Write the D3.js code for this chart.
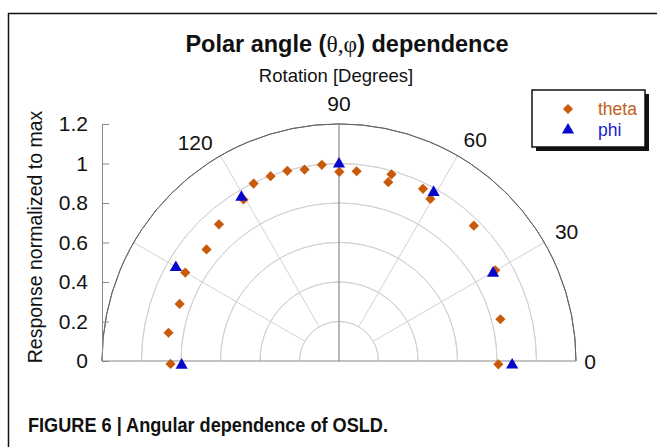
<!DOCTYPE html>
<html>
<head>
<meta charset="utf-8">
<script src="https://cdn.jsdelivr.net/npm/d3@7"></script>
<style>
  body { margin: 0; background: #fff; }
  svg text { font-family: "Liberation Sans", Arial, sans-serif; }
</style>
</head>
<body>
<div id="chart"></div>
<script>
// data: angle in degrees, response normalized to max
var thetaAngle = [181, 170.6, 160.3, 150.1, 139.9, 131.3, 120.6, 115.7, 110.3, 105.2, 100.2, 95.0,
                  89.9, 84.7, 74.3, 74.6, 64.0, 60.6, 45.1, 30.1, 14.5, -1.2];
var thetaValue = [0.853, 0.875, 0.857, 0.898, 0.877, 0.921, 0.950, 0.997, 0.998, 0.998, 0.985, 0.997,
                  0.958, 0.965, 0.982, 0.939, 0.970, 0.942, 0.967, 0.915, 0.844, 0.807];
var phiAngle = [181.5, 150.2, 120.8, 90, 60.7, 29.7, -1.3];
var phiValue = [0.797, 0.952, 0.965, 0.998, 0.979, 0.898, 0.877];

var radialTicks = [0.2, 0.4, 0.6, 0.8, 1.0];
var yTicks = [0, 0.2, 0.4, 0.6, 0.8, 1, 1.2];
var angleLabels = [0, 30, 60, 90, 120];
var spokes = [30, 60, 120, 150];

var width = 657, height = 447;
var cx = 339, cy = 361, R = 237;

var svg = d3.select("#chart").append("svg")
    .attr("width", width)
    .attr("height", height);

// frame
svg.append("path")
    .attr("d", "M8.5," + height + "V13.5H" + width)
    .attr("fill", "none")
    .attr("stroke", "#111")
    .attr("stroke-width", 1.5);

// radial scale
var r = d3.scaleLinear().domain([0, 1.2]).range([0, R]);
var rad = function (deg) { return deg * Math.PI / 180; };
var px = function (a, v) { return cx + r(v) * Math.cos(rad(a)); };
var py = function (a, v) { return cy - r(v) * Math.sin(rad(a)); };

var g = svg.append("g");

// grid circles
var arc = d3.arc().startAngle(-Math.PI / 2).endAngle(Math.PI / 2);
g.selectAll(".ring")
    .data(radialTicks)
    .enter().append("path")
    .attr("class", "ring")
    .attr("transform", "translate(" + cx + "," + cy + ")")
    .attr("d", function (d) { return arc({ innerRadius: r(d), outerRadius: r(d) }); })
    .attr("fill", "none")
    .attr("stroke", "#d2d2d2")
    .attr("stroke-width", 1);

// spokes, starting at the first ring
g.selectAll(".spoke")
    .data(spokes)
    .enter().append("line")
    .attr("x1", function (d) { return px(d, 0.2); })
    .attr("y1", function (d) { return py(d, 0.2); })
    .attr("x2", function (d) { return px(d, 1.2); })
    .attr("y2", function (d) { return py(d, 1.2); })
    .attr("stroke", "#d2d2d2")
    .attr("stroke-width", 1);

// outer arc
g.append("path")
    .attr("transform", "translate(" + cx + "," + cy + ")")
    .attr("d", arc({ innerRadius: R, outerRadius: R }))
    .attr("fill", "none")
    .attr("stroke", "#666")
    .attr("stroke-width", 1);

// baseline and 90 line
g.append("line")
    .attr("x1", px(180, 1.2)).attr("y1", cy)
    .attr("x2", px(0, 1.2)).attr("y2", cy)
    .attr("stroke", "#888").attr("stroke-width", 1.2);
g.append("line")
    .attr("x1", cx).attr("y1", cy)
    .attr("x2", cx).attr("y2", py(90, 1.2))
    .attr("stroke", "#888").attr("stroke-width", 1.2);

// y axis on the left
var y = d3.scaleLinear().domain([0, 1.2]).range([cy, cy - R]);
var yAxis = svg.append("g")
    .attr("transform", "translate(" + (cx - R) + ",0)")
    .call(d3.axisLeft(y).tickValues(yTicks).tickFormat(d3.format("")).tickSizeInner(-7).tickSizeOuter(0).tickPadding(14));
yAxis.selectAll("path, line").attr("stroke", "#888");
yAxis.selectAll("text")
    .attr("fill", "#111")
    .style("font-size", "21px")
    .style("font-family", "Liberation Sans, Arial, sans-serif");

svg.append("text")
    .attr("transform", "translate(35,237) rotate(-90)")
    .attr("dy", "0.36em")
    .attr("text-anchor", "middle")
    .style("font-size", "19.5px")
    .attr("fill", "#111")
    .text("Response normalized to max");

// angle labels, nudged off their spokes like the original
var labelShift = { 0: 0, 30: -0.3, 60: -1.6, 90: 0, 120: 3.3 };
var labelR = { 0: 251, 30: 262, 60: 260, 90: 258, 120: 262 };
svg.selectAll(".alabel")
    .data(angleLabels)
    .enter().append("text")
    .attr("x", function (d) { return cx + labelR[d] * Math.cos(rad(d + labelShift[d])); })
    .attr("y", function (d) { return cy - labelR[d] * Math.sin(rad(d + labelShift[d])); })
    .attr("dy", "0.36em")
    .attr("text-anchor", "middle")
    .style("font-size", "21px")
    .attr("fill", "#111")
    .text(function (d) { return d; });

svg.append("text")
    .attr("x", 336).attr("y", 82)
    .attr("text-anchor", "middle")
    .style("font-size", "18.5px")
    .attr("fill", "#111")
    .text("Rotation [Degrees]");

// title
var title = svg.append("text")
    .attr("x", 347).attr("y", 52)
    .attr("text-anchor", "middle")
    .style("font-size", "23.5px")
    .style("font-weight", "bold")
    .attr("fill", "#111");
title.append("tspan").text("Polar angle (");
title.append("tspan").style("font-family", "Liberation Serif, serif").style("font-weight", "normal").text("\u03b8,\u03c6");
title.append("tspan").text(") dependence");

// markers
var diamond = d3.symbol().type(d3.symbolSquare).size(52);
var triangle = d3.symbol().type(d3.symbolTriangle).size(64);
var orange = "#c95a0c", blue = "#0808cc";

svg.selectAll(".theta")
    .data(d3.zip(thetaAngle, thetaValue))
    .enter().append("path")
    .attr("class", "theta")
    .attr("d", diamond)
    .attr("transform", function (d) { return "translate(" + px(d[0], d[1]) + "," + py(d[0], d[1]) + ") rotate(45)"; })
    .attr("fill", orange);

svg.selectAll(".phi")
    .data(d3.zip(phiAngle, phiValue))
    .enter().append("path")
    .attr("class", "phi")
    .attr("d", triangle)
    .attr("transform", function (d) { return "translate(" + px(d[0], d[1]) + "," + py(d[0], d[1]) + ")"; })
    .attr("fill", blue);

// legend
var legend = svg.append("g").attr("transform", "translate(532,90)");
legend.append("rect").attr("x", 4).attr("y", 4).attr("width", 113).attr("height", 57).attr("fill", "#111");
legend.append("rect").attr("width", 113).attr("height", 57).attr("fill", "#fff").attr("stroke", "#111").attr("stroke-width", 1.5);
legend.append("path").attr("d", diamond).attr("transform", "translate(36,19) rotate(45)").attr("fill", orange);
legend.append("path").attr("d", triangle).attr("transform", "translate(36,40)").attr("fill", blue);
legend.append("text").attr("x", 66).attr("y", 25).style("font-size", "17.5px").attr("fill", "#c0601a").text("theta");
legend.append("text").attr("x", 66).attr("y", 46).style("font-size", "17.5px").attr("fill", "#1a1acc").text("phi");

// caption
svg.append("text")
    .attr("x", 28).attr("y", 432)
    .attr("textLength", 360)
    .attr("lengthAdjust", "spacingAndGlyphs")
    .style("font-family", "Liberation Sans Narrow, Liberation Sans, Arial, sans-serif")
    .style("font-size", "20px")
    .style("font-weight", "bold")
    .attr("fill", "#111")
    .text("FIGURE 6 | Angular dependence of OSLD.");
</script>
</body>
</html>
